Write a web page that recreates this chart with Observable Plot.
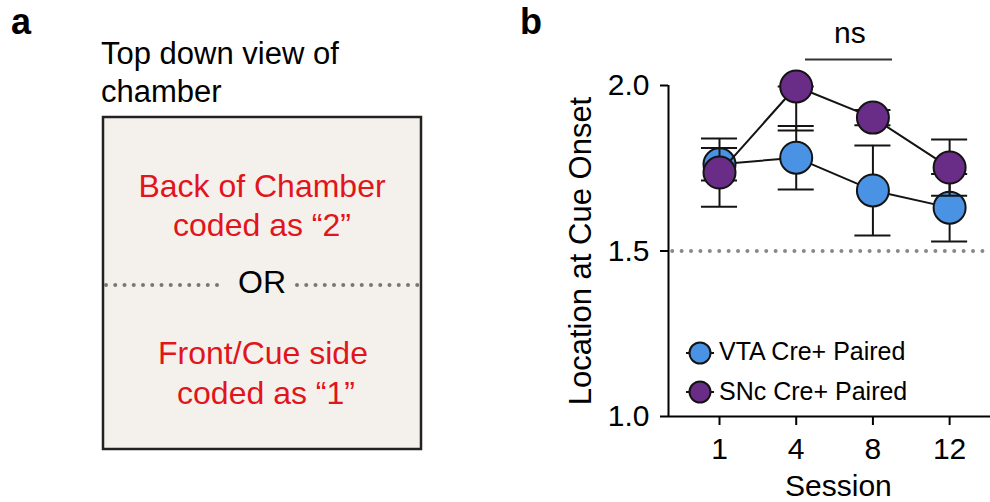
<!DOCTYPE html>
<html>
<head>
<meta charset="utf-8">
<script src="https://cdn.jsdelivr.net/npm/d3@7"></script>
<script src="https://cdn.jsdelivr.net/npm/@observablehq/plot@0.6"></script>
<style>
  html, body { margin: 0; padding: 0; background: #fff; }
  #wrap { position: relative; width: 990px; height: 502px; overflow: hidden; font-family: "Liberation Sans", Arial, sans-serif; }
  #wrap > svg.overlay { position: absolute; left: 0; top: 0; }
  #chart { position: absolute; left: 540px; top: 0; }
</style>
</head>
<body>
<div id="wrap">
  <svg class="overlay" width="990" height="502" font-family="Liberation Sans, Arial, sans-serif">
    <!-- panel labels -->
    <text x="11" y="34" font-size="36" font-weight="bold" fill="#000">a</text>
    <text x="520" y="34" font-size="36" font-weight="bold" fill="#000">b</text>
    <!-- panel a diagram -->
    <text x="101" y="64" font-size="31" fill="#000">Top down view of</text>
    <text x="101" y="102" font-size="31" fill="#000">chamber</text>
    <rect x="103" y="117" width="318" height="332" fill="#f4f1ec" stroke="#222" stroke-width="2.5"></rect>
    <g font-size="32" fill="#e2141c" text-anchor="middle">
      <text x="262" y="197">Back of Chamber</text>
      <text x="262" y="236">coded as “2”</text>
      <text x="263" y="364">Front/Cue side</text>
      <text x="266" y="404">coded as “1”</text>
    </g>
    <line x1="106" x2="226" y1="285" y2="285" stroke="#777" stroke-width="4" stroke-linecap="round" stroke-dasharray="0,9.25"></line>
    <line x1="297" x2="419" y1="285" y2="285" stroke="#777" stroke-width="4" stroke-linecap="round" stroke-dasharray="0,9.25"></line>
    <text x="262" y="293" font-size="32" fill="#000" text-anchor="middle">OR</text>
  </svg>
  <div id="chart"></div>
  <svg class="overlay" id="legend" width="990" height="502" font-family="Liberation Sans, Arial, sans-serif"></svg>
</div>
<script>
// ---- data ----
const sessions = ["1", "4", "8", "12"];
const groups = ["VTA Cre+ Paired", "SNc Cre+ Paired"];
const colors = ["#4a92e3", "#6a2d87"];
const vtaMean = [1.762, 1.782, 1.683, 1.631];
const vtaLo   = [1.713, 1.686, 1.547, 1.529];
const vtaHi   = [1.811, 1.878, 1.819, 1.733];
const sncMean = [1.737, 1.997, 1.903, 1.752];
const sncLo   = [1.634, 1.864, 1.880, 1.667];
const sncHi   = [1.840, 1.997, 1.926, 1.837];
const yTicks = [1.0, 1.5, 2.0];
const chanceLevel = 1.5;
const sigLabel = "ns";

const rows = (mean, lo, hi) => sessions.map((s, i) => ({i, session: s, mean: mean[i], lo: lo[i], hi: hi[i]}));
const vta = rows(vtaMean, vtaLo, vtaHi);
const snc = rows(sncMean, sncLo, sncHi);

const xDomain = [-0.665, 3.533];
const capHalf = 0.235;
const ink = "#141414";

function groupMarks(data, color) {
  return [
    Plot.ruleX(data, {x: "i", y1: "lo", y2: "hi", stroke: ink, strokeWidth: 2}),
    Plot.ruleY(data, {y: "lo", x1: d => d.i - capHalf, x2: d => d.i + capHalf, stroke: ink, strokeWidth: 2}),
    Plot.ruleY(data, {y: "hi", x1: d => d.i - capHalf, x2: d => d.i + capHalf, stroke: ink, strokeWidth: 2}),
    Plot.line(data, {x: "i", y: "mean", stroke: ink, strokeWidth: 2}),
    Plot.dot(data, {x: "i", y: "mean", r: 16, fill: color, stroke: ink, strokeWidth: 2})
  ];
}

const chart = Plot.plot({
  width: 450,
  height: 502,
  marginLeft: 128,
  marginRight: 0,
  marginTop: 85,
  marginBottom: 86,
  style: {fontFamily: "Liberation Sans, Arial, sans-serif", background: "transparent", color: "#000", overflow: "visible"},
  x: {type: "linear", domain: xDomain, axis: null},
  y: {type: "linear", domain: [1, 2], axis: null},
  marks: [
    Plot.ruleY([chanceLevel], {x1: -0.61, x2: xDomain[1], stroke: "#888", strokeWidth: 4, strokeLinecap: "round", strokeDasharray: "0,9.4"}),
    Plot.axisY({ticks: yTicks, tickFormat: d3.format(".1f"), tickSize: 8, tickPadding: 11, fontSize: 30, strokeWidth: 2, label: null}),
    Plot.axisX({ticks: sessions.map((s, i) => i), tickFormat: i => sessions[i], tickSize: 9, tickPadding: 12, fontSize: 30, strokeWidth: 2, label: null}),
    Plot.ruleX([xDomain[0]], {y1: 1, y2: 2, stroke: "#000", strokeWidth: 2}),
    Plot.ruleY([1], {stroke: "#000", strokeWidth: 2}),
    Plot.text(["Session"], {x: 1.55, y: 1, dy: 70, fontSize: 30, fill: "#000"}),
    Plot.text(["Location at Cue Onset"], {x: -1.81, y: 1.5, rotate: -90, fontSize: 31, fill: "#000"}),
    Plot.ruleY([2.0785], {x1: 1.121, x2: 2.256, stroke: "#333", strokeWidth: 2}),
    Plot.text([sigLabel], {x: 1.7, y: 2.156, fontSize: 30, fill: "#000"}),
    ...groupMarks(vta, colors[0]),
    ...groupMarks(snc, colors[1])
  ]
});
document.getElementById("chart").appendChild(chart);

// legend
const lg = d3.select("#legend");
const legendRows = [{cy: 353, ty: 360}, {cy: 392, ty: 400}];
groups.forEach((g, k) => {
  const r = legendRows[k];
  lg.append("line").attr("x1", 686).attr("x2", 714).attr("y1", r.cy).attr("y2", r.cy).attr("stroke", ink).attr("stroke-width", 2);
  lg.append("circle").attr("cx", 700).attr("cy", r.cy).attr("r", 10.5).attr("fill", colors[k]).attr("stroke", ink).attr("stroke-width", 2);
  lg.append("text").attr("x", 719).attr("y", r.ty).attr("font-size", 25).attr("fill", "#000").text(g);
});
</script>
</body>
</html>
